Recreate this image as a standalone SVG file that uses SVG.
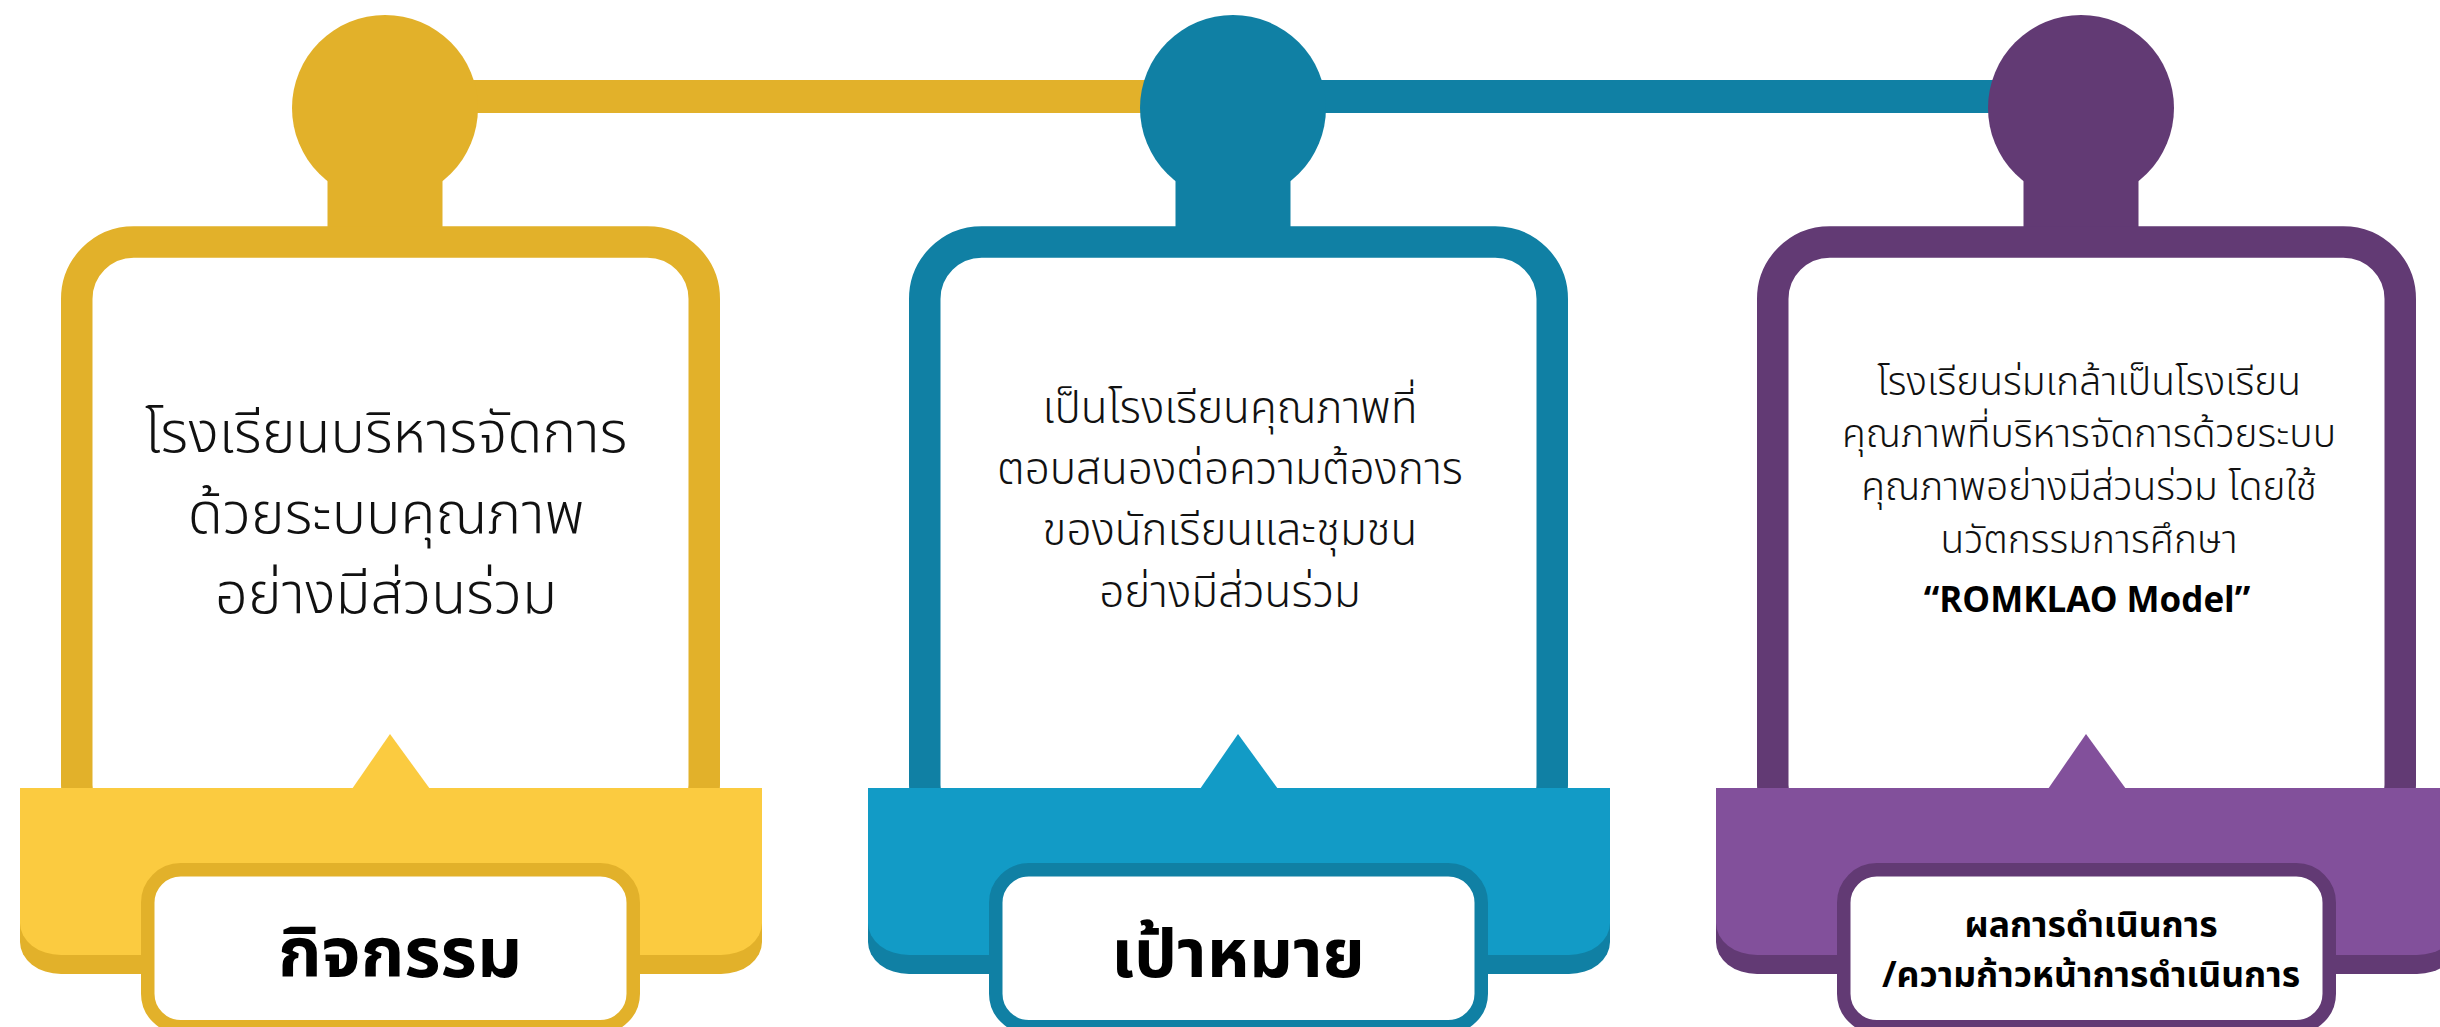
<svg xmlns="http://www.w3.org/2000/svg" width="2440" height="1027" viewBox="0 0 2440 1027">
<style>
.body{font-family:"Noto Sans Thai","Noto Sans","DejaVu Sans",sans-serif;font-weight:300;fill:#111;text-anchor:middle}
.lbl{font-family:"Noto Sans Thai","Noto Sans","DejaVu Sans",sans-serif;font-weight:700;fill:#000;text-anchor:middle}
.gold-d{fill:#E2B12A}.gold-l{fill:#FBCB40}
.teal-d{fill:#1080A4}.teal-l{fill:#129BC6}
.purp-d{fill:#623A74}.purp-l{fill:#82509B}
</style>
<defs>
<path id="banner" d="M-41,788 H701 V923 A41 32 0 0 1 660,955 H0 A41 32 0 0 1 -41,923 Z"/>
</defs>
<g id="connectors">
<rect class="gold-d" x="385" y="80" width="850" height="33"/>
<rect class="teal-d" x="1232" y="80" width="850" height="33"/>
</g>
<g id="node-activity" transform="translate(61,0)">
<circle class="gold-d" cx="324" cy="108" r="93"/>
<rect class="gold-d" x="266.5" y="150" width="115" height="90"/>
<rect x="15.75" y="242" width="627.5" height="600" rx="57" fill="none" stroke="#E2B12A" stroke-width="31.5"/>
<use href="#banner" class="gold-d" y="19"/>
<use href="#banner" class="gold-l"/>
<polygon class="gold-l" points="329,734 291,789 369,789"/>
<rect x="86.75" y="869.75" width="485.5" height="157" rx="33" fill="#fff" stroke="#E2B12A" stroke-width="13.5"/>
<text class="body" font-size="57.5"><tspan x="325" y="452">โรงเรียนบริหารจัดการ</tspan><tspan x="325" y="533">ด้วยระบบคุณภาพ</tspan><tspan x="325" y="613">อย่างมีส่วนร่วม</tspan></text>
<text class="lbl" x="339" y="977" font-size="70">กิจกรรม</text>
</g>
<g id="node-goal" transform="translate(909,0)">
<circle class="teal-d" cx="324" cy="108" r="93"/>
<rect class="teal-d" x="266.5" y="150" width="115" height="90"/>
<rect x="15.75" y="242" width="627.5" height="600" rx="57" fill="none" stroke="#1080A4" stroke-width="31.5"/>
<use href="#banner" class="teal-d" y="19"/>
<use href="#banner" class="teal-l"/>
<polygon class="teal-l" points="329,734 291,789 369,789"/>
<rect x="86.75" y="869.75" width="485.5" height="157" rx="33" fill="#fff" stroke="#1080A4" stroke-width="13.5"/>
<text class="body" font-size="44"><tspan x="321" y="423">เป็นโรงเรียนคุณภาพที่</tspan><tspan x="321" y="484">ตอบสนองต่อความต้องการ</tspan><tspan x="321" y="545">ของนักเรียนและชุมชน</tspan><tspan x="321" y="607">อย่างมีส่วนร่วม</tspan></text>
<text class="lbl" x="329" y="977" font-size="68">เป้าหมาย</text>
</g>
<g id="node-result" transform="translate(1757,0)">
<circle class="purp-d" cx="324" cy="108" r="93"/>
<rect class="purp-d" x="266.5" y="150" width="115" height="90"/>
<rect x="15.75" y="242" width="627.5" height="600" rx="57" fill="none" stroke="#623A74" stroke-width="31.5"/>
<use href="#banner" class="purp-d" y="19"/>
<use href="#banner" class="purp-l"/>
<polygon class="purp-l" points="329,734 291,789 369,789"/>
<rect x="86.75" y="869.75" width="485.5" height="157" rx="33" fill="#fff" stroke="#623A74" stroke-width="13.5"/>
<text class="body" font-size="39"><tspan x="332" y="395">โรงเรียนร่มเกล้าเป็นโรงเรียน</tspan><tspan x="332" y="447">คุณภาพที่บริหารจัดการด้วยระบบ</tspan><tspan x="332" y="500">คุณภาพอย่างมีส่วนร่วม โดยใช้</tspan><tspan x="332" y="553">นวัตกรรมการศึกษา</tspan></text>
<text class="lbl" x="330" y="612" font-size="35">“ROMKLAO Model”</text>
<text class="lbl" font-size="35.5"><tspan x="334" y="937">ผลการดำเนินการ</tspan><tspan x="334" y="987">/ความก้าวหน้าการดำเนินการ</tspan></text>
</g>
</svg>
